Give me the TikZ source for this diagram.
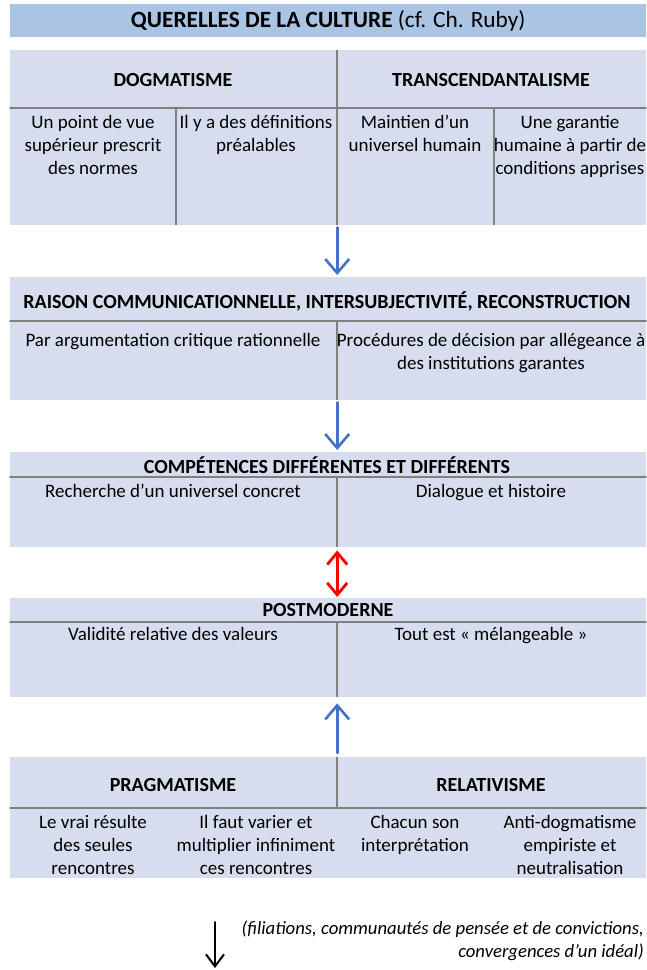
\documentclass[tikz,border=0pt]{standalone}
\usepackage{fontspec}
\setmainfont{Carlito}
\usetikzlibrary{arrows.meta}
\definecolor{titleblue}{RGB}{170,196,228}
\definecolor{cellblue}{RGB}{214,221,238}
\definecolor{rulegray}{RGB}{128,128,128}
\definecolor{arrowblue}{RGB}{68,114,196}
\begin{document}
\begin{tikzpicture}[x=1pt,y=-1pt, line join=round, line cap=round]
	\tikzset{cellbg/.style={fill=cellblue, inner sep=0pt, anchor=north west, minimum width=636pt},
		hdr/.style={inner sep=0pt, font=\bfseries\fontsize{20}{24}\selectfont},
		txt/.style={inner sep=0pt, anchor=north, align=center, font=\fontsize{19}{23}\selectfont},
		rule/.style={draw=rulegray, line width=1.6pt},
		vrule/.style={draw=rulegray, line width=1.2pt, line cap=butt},
		bluearrow/.style={draw=arrowblue, line width=2.6pt, -{Straight Barb[length=14pt,width=24pt,line width=2.6pt]}},
		redarrow/.style={draw=red, line width=2.8pt, {Straight Barb[length=12pt,width=20pt,line width=2.8pt]}-{Straight Barb[length=12pt,width=20pt,line width=2.8pt]}},
		blackarrow/.style={draw=black, line width=2pt, -{Straight Barb[length=12pt,width=18pt,line width=2pt]}}}
	\def \mid{337}
	\useasboundingbox (0,0) rectangle (646,970);
	% title
	\node[fill=titleblue, inner sep=0pt, anchor=north west, minimum width=636pt, minimum height=33pt,
		font=\fontsize{23.3}{27}\selectfont] (title) at (10,4) {\textbf{QUERELLES DE LA CULTURE} (cf. Ch. Ruby)};
	% tables
	\node[cellbg, minimum height=175pt] (tab1) at (10,50) {};
	\node[cellbg, minimum height=123pt] (tab2) at (10,277) {};
	\node[cellbg, minimum height=95pt] (tab3) at (10,452) {};
	\node[cellbg, minimum height=99pt] (tab4) at (10,598) {};
	\node[cellbg, minimum height=121pt] (tab5) at (10,757) {};
	% rules
	\draw[rule] (10,108)--(646,108) (10,321)--(646,321) (10,477)--(646,477) (10,622)--(646,622) (10,808)--(646,808);
	\draw[vrule] (\mid,50)--(\mid,225) (176,108)--(176,225) (494,108)--(494,225);
	\draw[vrule] (\mid,321)--(\mid,400) (\mid,477)--(\mid,547) (\mid,622)--(\mid,697) (\mid,757)--(\mid,808);
	% table 1
	\node[hdr] (dogm) at (173,80) {DOGMATISME};
	\node[hdr] (trans) at (491,80) {TRANSCENDANTALISME};
	\node[txt] (dogmA) at (93,115) {Un point de vue\\supérieur prescrit\\des normes};
	\node[txt] (dogmB) at (256,115) {Il y a des définitions\\préalables};
	\node[txt] (transA) at (415,115) {Maintien d’un\\universel humain};
	\node[txt] (transB) at (570,115) {Une garantie\\humaine à partir de\\conditions apprises};
	% table 2
	\node[hdr] (raison) at (327,301) {RAISON COMMUNICATIONNELLE, INTERSUBJECTIVITÉ, RECONSTRUCTION};
	\node[txt] (raisonA) at (173,333) {Par argumentation critique rationnelle};
	\node[txt] (raisonB) at (491,333) {Procédures de décision par allégeance à\\des institutions garantes};
	% table 3
	\node[hdr] (compet) at (327,465) {COMPÉTENCES DIFFÉRENTES ET DIFFÉRENTS};
	\node[txt] (competA) at (173,484) {Recherche d’un universel concret};
	\node[txt] (competB) at (491,484) {Dialogue et histoire};
	% table 4
	\node[hdr] (postm) at (328,610) {POSTMODERNE};
	\node[txt] (postmA) at (173,627) {Validité relative des valeurs};
	\node[txt] (postmB) at (491,627) {Tout est « mélangeable »};
	% table 5
	\node[hdr] (pragm) at (173,785) {PRAGMATISME};
	\node[hdr] (relat) at (491,785) {RELATIVISME};
	\node[txt] (pragmA) at (93,815) {Le vrai résulte\\des seules\\rencontres};
	\node[txt] (pragmB) at (256,815) {Il faut varier et\\multiplier infiniment\\ces rencontres};
	\node[txt] (relatA) at (415,815) {Chacun son\\interprétation};
	\node[txt] (relatB) at (570,815) {Anti-dogmatisme\\empiriste et\\neutralisation};
	% note
	\node[inner sep=0pt, anchor=north east, align=right, font=\itshape\fontsize{18.7}{23}\selectfont] (note) at (644,921)
		{(filiations, communautés de pensée et de convictions,\\convergences d’un idéal)};
	\coordinate (fromA) at (215,922);
	\coordinate (toA) at (215,968);
	% arrows
	\draw[bluearrow] ([xshift=9pt,yshift=-2pt]tab1.south)--([xshift=9pt,yshift=2pt]tab2.north);
	\draw[bluearrow] ([xshift=9pt,yshift=-2pt]tab2.south)--([xshift=9pt,yshift=2pt]tab3.north);
	\draw[redarrow] ([xshift=9pt,yshift=-3pt]tab3.south)--([xshift=9pt,yshift=1pt]tab4.north);
	\draw[bluearrow] ([xshift=9pt,yshift=4pt]tab5.north)--([xshift=9pt,yshift=-6pt]tab4.south);
	\draw[blackarrow] (fromA)--(toA);
\end{tikzpicture}
\end{document}
